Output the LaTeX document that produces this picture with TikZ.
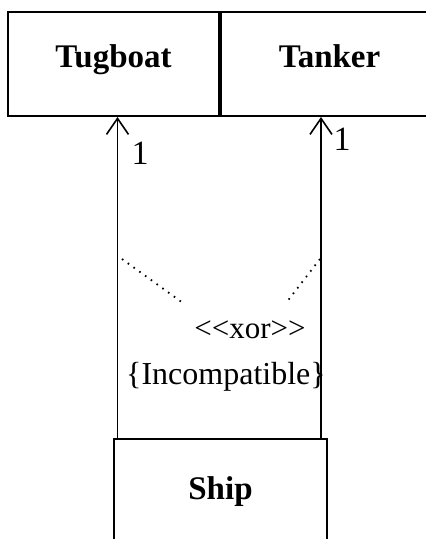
\documentclass[tikz,border=0pt]{standalone}
\usepackage{fontspec}
\setmainfont{Liberation Serif}
\usetikzlibrary{arrows.meta}
\begin{document}
\begin{tikzpicture}[x=1pt,y=-1pt,
  cls/.style={draw, line width=2pt, inner sep=0pt, font=\fontsize{33}{40}\selectfont\bfseries},
  assoc/.style={line width=1.8pt, -{Straight Barb[length=16pt,width=22pt,line width=1.6pt]}},
  constr/.style={line width=1.8pt, dash pattern=on 1.6pt off 5.5pt},
  lbl/.style={inner sep=0pt, font=\fontsize{32}{38}\selectfont}]
\clip (0,0) rectangle (426,539);
\useasboundingbox (0,0) rectangle (426,539);
\node[cls, minimum width=211pt, minimum height=104pt, text height=22pt, text depth=15pt] (tug) at (113.5,64) {Tugboat};
\node[cls, minimum width=221pt, minimum height=104pt, text height=22pt, text depth=15pt] (tank) at (329.5,64) {Tanker};
\draw[line width=3pt] (tug.north east) -- (tug.south east);
\node[cls, minimum width=213pt, minimum height=121pt, text height=22pt, text depth=22pt] (ship) at (220.5,499.5) {Ship};
\coordinate (sl) at (117.5,439);
\coordinate (sr) at (321,439);
\draw[assoc] (sl) -- (sl |- tug.south);
\draw[assoc] (sr) -- (sr |- tank.south);
\node[lbl, font=\fontsize{34}{40}\selectfont] (m1) at (140,153) {1};
\node[lbl, font=\fontsize{34}{40}\selectfont] (m2) at (342,139) {1};
\coordinate (d1a) at (122,259);
\coordinate (d1b) at (183,303);
\coordinate (d2a) at (320,259);
\coordinate (d2b) at (286,303);
\draw[constr] (d1a) -- (d1b);
\draw[constr] (d2a) -- (d2b);
\node[lbl, font=\fontsize{31}{38}\selectfont] (xor) at (250,330) {<{}<xor>{}>};
\node[lbl, font=\fontsize{32}{38}\selectfont] (inc) at (226,377) {\{Incompatible\}};
\end{tikzpicture}
\end{document}
